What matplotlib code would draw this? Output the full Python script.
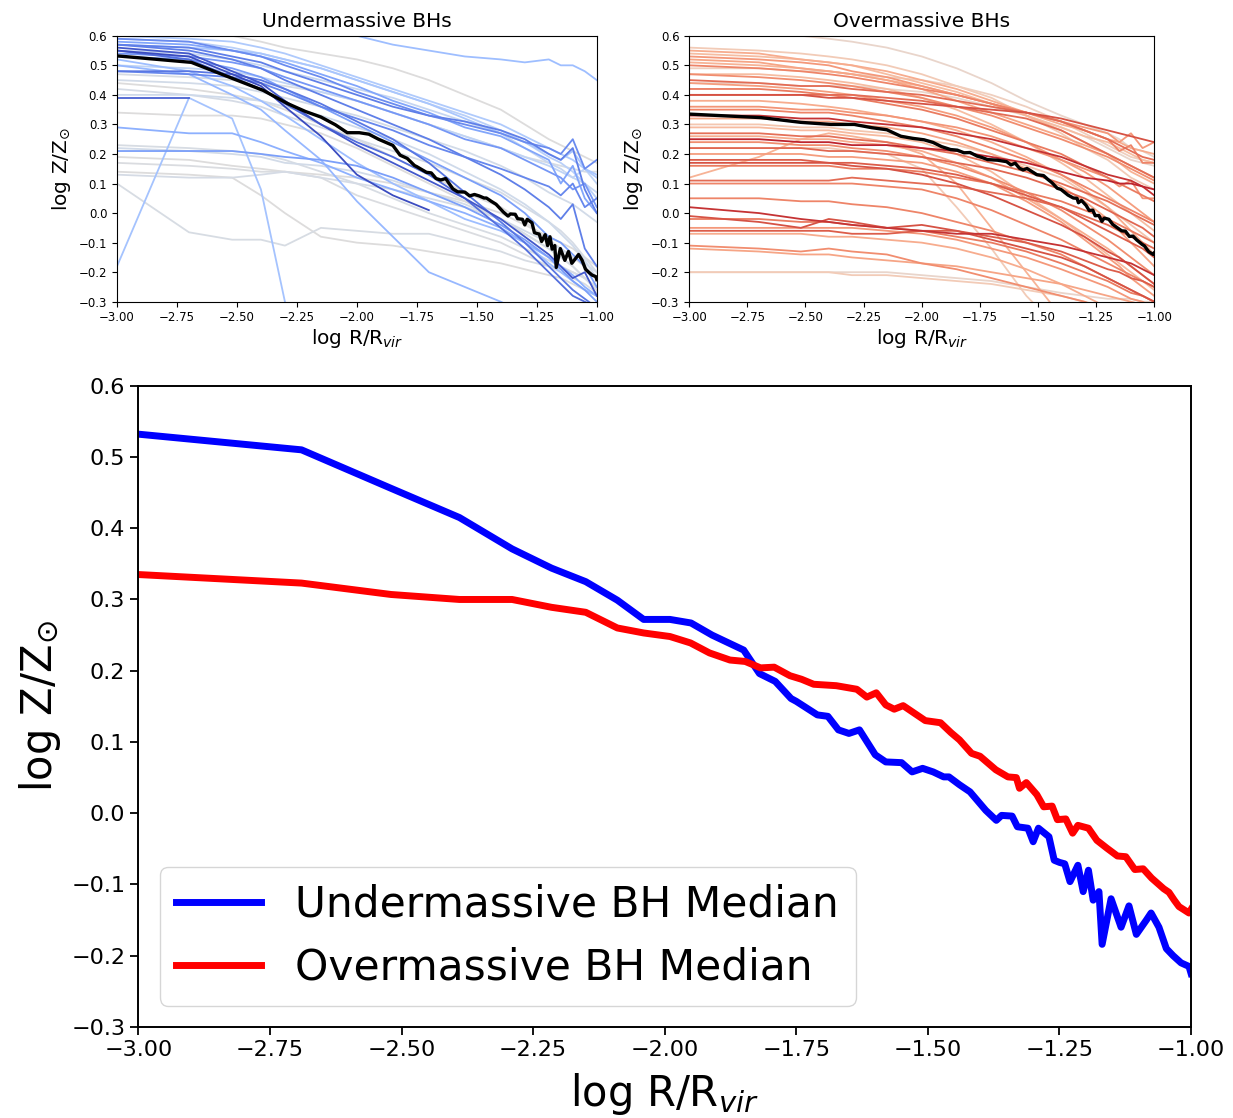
import numpy as np
import matplotlib
matplotlib.use('Agg')
import matplotlib.pyplot as plt

nan = np.nan

# radial sampling of the individual halo profiles (log R/Rvir)
r_grid = [-3.0, -2.7, -2.52, -2.4, -2.3, -2.15, -2.0, -1.85, -1.7, -1.55,
          -1.4, -1.3, -1.2, -1.15, -1.1, -1.05, -1.0]

# individual metallicity profiles, undermassive BH hosts
under_profiles = [
    [0.70, 0.68, 0.66, 0.65, 0.64, 0.62, 0.60, 0.57, 0.55, 0.53, 0.52, 0.51, 0.52, 0.50, 0.50, 0.48, 0.45],
    [-0.18, 0.39, 0.32, 0.08, -0.30, -0.60] + [nan] * 11,
    [0.39, 0.39] + [nan] * 15,
    [0.59, 0.58, 0.55, 0.53, 0.50, 0.46, 0.41, 0.37, 0.33, 0.30, 0.27, 0.24, 0.22, 0.20, 0.25, 0.15, 0.18],
    [0.58, 0.57, 0.55, 0.53, 0.51, 0.47, 0.43, 0.38, 0.34, 0.29, 0.26, 0.22, 0.18, 0.10, 0.16, 0.05, 0.00],
    [0.57, 0.55, 0.52, 0.49, 0.45, 0.40, 0.35, 0.30, 0.25, 0.19, 0.13, 0.08, 0.02, -0.02, 0.03, -0.12, -0.18],
    [0.56, 0.54, 0.48, 0.44, 0.38, 0.30, 0.23, 0.17, 0.11, 0.05, -0.02, -0.08, -0.14, -0.18, -0.22, -0.20, -0.28],
    [0.55, 0.53, 0.47, 0.43, 0.36, 0.26, 0.13, 0.06, 0.01] + [nan] * 8,
    [0.55, 0.52, 0.46, 0.42, 0.37, 0.30, 0.24, 0.19, 0.13, 0.05, -0.05, -0.12, -0.20, -0.24, -0.28, -0.30, -0.32],
    [0.54, 0.53, 0.51, 0.49, 0.46, 0.42, 0.38, 0.34, 0.30, 0.25, 0.22, 0.18, 0.14, 0.12, 0.08, 0.10, 0.02],
    [0.53, 0.52, 0.49, 0.46, 0.42, 0.36, 0.30, 0.24, 0.18, 0.12, 0.06, 0.00, -0.08, -0.10, -0.14, -0.18, -0.25],
    [0.48, 0.48, 0.47, 0.45, 0.42, 0.37, 0.31, 0.25, 0.17, 0.07, -0.03, -0.10, -0.18, -0.22, -0.26, -0.29, -0.32],
    [0.48, 0.47, 0.46, 0.44, 0.41, 0.36, 0.32, 0.28, 0.23, 0.19, 0.15, 0.12, 0.09, 0.06, 0.10, 0.02, 0.05],
    [0.52, 0.48, 0.43, 0.38, 0.33, 0.25, 0.17, 0.10, 0.04, -0.02, -0.06, -0.10, -0.17, -0.20, -0.23, -0.26, -0.28],
    [0.50, 0.47, 0.40, 0.35, 0.28, 0.18, 0.04, -0.08, -0.20, -0.25, -0.30, -0.34] + [nan] * 5,
    [0.29, 0.27, 0.27, 0.24, 0.21, 0.17, 0.12, 0.08, 0.04, 0.00, -0.05, -0.10, -0.15, -0.18, -0.21, -0.25, -0.28],
    [0.21, 0.21, 0.21, 0.20, 0.19, 0.18, 0.16, 0.12, 0.07, 0.02, -0.04, -0.09, -0.15, -0.19, -0.23, -0.26, -0.30],
    [0.60, 0.59, 0.58, 0.56, 0.54, 0.50, 0.46, 0.42, 0.38, 0.34, 0.30, 0.26, 0.22, 0.20, 0.18, 0.15, 0.12],
    [0.59, 0.58, 0.56, 0.54, 0.52, 0.49, 0.45, 0.41, 0.37, 0.33, 0.28, 0.24, 0.19, 0.17, 0.14, 0.10, 0.05],
    [0.57, 0.56, 0.53, 0.51, 0.48, 0.44, 0.40, 0.36, 0.33, 0.31, 0.28, 0.25, 0.20, 0.18, 0.22, 0.08, 0.00],
    [0.57, 0.56, 0.55, 0.54, 0.52, 0.49, 0.45, 0.41, 0.37, 0.32, 0.27, 0.24, 0.20, 0.18, 0.21, 0.15, 0.13],
    [0.50, 0.49, 0.48, 0.46, 0.44, 0.41, 0.38, 0.34, 0.30, 0.26, 0.22, 0.19, 0.16, 0.14, 0.12, 0.15, 0.10],
    [0.62, 0.61, 0.60, 0.58, 0.56, 0.54, 0.52, 0.49, 0.45, 0.40, 0.35, 0.30, 0.25, 0.23, 0.21, 0.19, 0.17],
    [0.47, 0.46, 0.45, 0.44, 0.43, 0.41, 0.38, 0.34, 0.30, 0.26, 0.22, 0.19, 0.17, 0.16, 0.15, 0.14, 0.14],
    [0.45, 0.44, 0.43, 0.41, 0.39, 0.36, 0.33, 0.29, 0.25, 0.21, 0.16, 0.12, 0.07, 0.05, 0.03, 0.00, -0.03],
    [0.44, 0.42, 0.40, 0.38, 0.35, 0.30, 0.25, 0.19, 0.13, 0.07, 0.02, -0.03, -0.09, -0.12, -0.15, -0.18, -0.22],
    [0.42, 0.40, 0.38, 0.36, 0.33, 0.29, 0.25, 0.21, 0.17, 0.12, 0.07, 0.02, -0.03, -0.06, -0.10, -0.15, -0.20],
    [0.40, 0.40, 0.39, 0.38, 0.36, 0.33, 0.29, 0.25, 0.20, 0.14, 0.08, 0.03, -0.03, -0.07, -0.11, -0.16, -0.22],
    [0.34, 0.33, 0.33, 0.32, 0.30, 0.27, 0.22, 0.16, 0.10, 0.04, -0.02, -0.07, -0.12, -0.15, -0.18, -0.22, -0.26],
    [0.23, 0.22, 0.21, 0.20, 0.18, 0.14, 0.10, 0.05, 0.00, -0.04, -0.08, -0.12, -0.16, -0.18, -0.20, -0.22, -0.25],
    [0.22, 0.21, 0.20, 0.19, 0.17, 0.16, 0.14, 0.11, 0.07, 0.03, -0.02, -0.06, -0.10, -0.12, -0.15, -0.17, -0.20],
    [0.19, 0.18, 0.16, 0.15, 0.14, 0.13, 0.12, 0.10, 0.07, 0.04, 0.00, -0.04, -0.08, -0.10, -0.12, -0.15, -0.18],
    [0.17, 0.16, 0.15, 0.14, 0.14, 0.12, 0.06, 0.02, -0.02, -0.06, -0.10, -0.14, -0.18, -0.20, -0.22, -0.24, -0.27],
    [0.13, 0.12, 0.12, 0.13, 0.14, 0.12, 0.10, 0.08, 0.05, 0.02, -0.02, -0.07, -0.12, -0.15, -0.18, -0.22, -0.26],
    [0.10, -0.065, -0.09, -0.09, -0.11, -0.05, -0.06, -0.07, -0.07, -0.10, -0.13, -0.16, -0.18, -0.19, -0.20, -0.22, -0.25],
    [0.14, 0.13, 0.12, 0.06, 0.00, -0.08, -0.10, -0.11, -0.13, -0.15, -0.17, -0.19, -0.21, -0.22, -0.24, -0.26, -0.28],
    [0.55, 0.54, 0.52, 0.50, 0.48, 0.45, 0.42, 0.39, 0.35, 0.31, 0.27, 0.22, 0.17, 0.15, 0.12, 0.10, 0.07],
]
under_shade = [0.30, 0.32, 0.05, 0.15, 0.22, 0.12, 0.03, 0.00, 0.08, 0.18, 0.20, 0.10,
               0.14, 0.30, 0.28, 0.25, 0.20, 0.35, 0.38, 0.12, 0.33, 0.40, 0.50, 0.48,
               0.46, 0.50, 0.47, 0.45, 0.50, 0.48, 0.46, 0.50, 0.49, 0.47, 0.48, 0.50,
               0.42]

# individual metallicity profiles, overmassive BH hosts
over_profiles = [
    [0.62, 0.61, 0.60, 0.59, 0.58, 0.56, 0.53, 0.49, 0.44, 0.38, 0.33, 0.30, 0.27, 0.25, 0.22, 0.21, 0.19],
    [0.56, 0.55, 0.54, 0.53, 0.52, 0.50, 0.47, 0.43, 0.39, 0.33, 0.27, 0.22, 0.18, 0.15, 0.12, 0.10, 0.08],
    [0.55, 0.54, 0.52, 0.51, 0.50, 0.48, 0.45, 0.42, 0.38, 0.34, 0.30, 0.28, 0.25, 0.24, 0.22, 0.21, 0.20],
    [0.54, 0.53, 0.52, 0.51, 0.50, 0.47, 0.44, 0.41, 0.37, 0.33, 0.29, 0.26, 0.24, 0.22, 0.20, 0.18, 0.17],
    [0.53, 0.52, 0.51, 0.50, 0.48, 0.46, 0.43, 0.40, 0.37, 0.34, 0.31, 0.29, 0.27, 0.24, 0.27, 0.22, 0.24],
    [0.52, 0.51, 0.49, 0.48, 0.47, 0.45, 0.42, 0.38, 0.34, 0.30, 0.26, 0.23, 0.20, 0.18, 0.16, 0.14, 0.12],
    [0.51, 0.50, 0.49, 0.48, 0.47, 0.45, 0.43, 0.40, 0.37, 0.33, 0.28, 0.24, 0.20, 0.17, 0.14, 0.12, 0.10],
    [0.50, 0.49, 0.48, 0.47, 0.46, 0.44, 0.42, 0.40, 0.37, 0.34, 0.31, 0.28, 0.25, 0.21, 0.23, 0.17, 0.17],
    [0.47, 0.46, 0.45, 0.44, 0.43, 0.41, 0.39, 0.36, 0.33, 0.29, 0.25, 0.22, 0.19, 0.17, 0.15, 0.13, 0.11],
    [0.45, 0.44, 0.43, 0.43, 0.42, 0.41, 0.40, 0.38, 0.36, 0.34, 0.31, 0.28, 0.25, 0.23, 0.21, 0.19, 0.18],
    [0.44, 0.43, 0.42, 0.41, 0.40, 0.38, 0.36, 0.33, 0.29, 0.24, 0.18, 0.14, 0.09, 0.06, 0.03, 0.00, -0.03],
    [0.42, 0.42, 0.41, 0.40, 0.39, 0.37, 0.35, 0.32, 0.28, 0.24, 0.20, 0.16, 0.12, 0.10, 0.08, 0.06, 0.04],
    [0.40, 0.40, 0.40, 0.39, 0.39, 0.38, 0.37, 0.36, 0.35, 0.34, 0.32, 0.30, 0.28, 0.27, 0.26, 0.25, 0.24],
    [0.38, 0.38, 0.37, 0.36, 0.35, 0.33, 0.31, 0.28, 0.24, 0.19, 0.13, 0.08, 0.02, -0.02, -0.06, -0.10, -0.14],
    [0.36, 0.36, 0.35, 0.35, 0.34, 0.33, 0.31, 0.29, 0.26, 0.22, 0.18, 0.15, 0.12, 0.09, 0.11, 0.05, 0.05],
    [0.35, 0.35, 0.34, 0.34, 0.33, 0.31, 0.29, 0.26, 0.22, 0.18, 0.13, 0.09, 0.05, 0.03, 0.01, -0.01, -0.03],
    [0.33, 0.33, 0.32, 0.32, 0.31, 0.30, 0.29, 0.27, 0.25, 0.22, 0.19, 0.16, 0.13, 0.12, 0.11, 0.09, 0.06],
    [0.32, 0.32, 0.31, 0.31, 0.30, 0.29, 0.27, 0.24, 0.20, 0.15, 0.09, 0.04, -0.02, -0.06, -0.10, -0.14, -0.18],
    [0.29, 0.29, 0.28, 0.28, 0.27, 0.26, 0.24, 0.20, 0.14, 0.06, -0.02, -0.08, -0.14, -0.17, -0.20, -0.23, -0.26],
    [0.27, 0.27, 0.26, 0.26, 0.25, 0.24, 0.22, 0.20, 0.17, 0.14, 0.10, 0.07, 0.04, 0.02, 0.00, -0.02, -0.04],
    [0.25, 0.25, 0.24, 0.24, 0.23, 0.23, 0.22, 0.21, 0.19, 0.17, 0.14, 0.12, 0.11, 0.10, 0.10, 0.09, 0.08],
    [0.24, 0.24, 0.23, 0.23, 0.22, 0.21, 0.19, 0.16, 0.12, 0.07, 0.01, -0.04, -0.09, -0.12, -0.15, -0.18, -0.21],
    [0.22, 0.22, 0.22, 0.21, 0.21, 0.20, 0.19, 0.17, 0.15, 0.12, 0.08, 0.05, 0.01, -0.01, -0.03, -0.05, -0.08],
    [0.20, 0.20, 0.20, 0.19, 0.19, 0.18, 0.17, 0.14, 0.10, 0.04, -0.03, -0.09, -0.15, -0.18, -0.22, -0.25, -0.28],
    [0.18, 0.18, 0.18, 0.17, 0.17, 0.16, 0.15, 0.13, 0.10, 0.06, 0.02, -0.02, -0.06, -0.08, -0.10, -0.12, -0.15],
    [0.16, 0.16, 0.16, 0.16, 0.15, 0.15, 0.14, 0.12, 0.10, 0.07, 0.04, 0.01, -0.02, -0.04, -0.06, -0.08, -0.10],
    [0.12, 0.19, 0.25, 0.27, 0.26, 0.24, 0.20, 0.10, -0.05, -0.20, -0.35] + [nan] * 6,
    [0.22, 0.22, 0.22, 0.22, 0.21, 0.20, 0.15, 0.02, -0.12, -0.28, -0.40] + [nan] * 6,
    [0.11, 0.11, 0.11, 0.11, 0.12, 0.11, 0.10, 0.09, 0.07, 0.05, 0.02, -0.01, -0.04, -0.06, -0.08, -0.10, -0.12],
    [0.10, 0.10, 0.10, 0.10, 0.10, 0.09, 0.08, 0.05, 0.01, -0.04, -0.09, -0.13, -0.17, -0.19, -0.21, -0.23, -0.25],
    [0.02, 0.00, -0.02, -0.03, -0.04, -0.05, -0.06, -0.07, -0.07, -0.09, -0.11, -0.13, -0.15, -0.16, -0.17, -0.19, -0.21],
    [-0.01, -0.03, -0.05, -0.02, -0.03, -0.05, -0.04, -0.06, -0.09, -0.12, -0.15, -0.18, -0.22, -0.24, -0.26, -0.28, -0.30],
    [-0.02, -0.02, -0.03, -0.03, -0.04, -0.05, -0.06, -0.08, -0.10, -0.13, -0.17, -0.20, -0.23, -0.25, -0.27, -0.28, -0.30],
    [-0.05, -0.05, -0.05, -0.05, -0.05, -0.06, -0.07, -0.09, -0.12, -0.15, -0.19, -0.22, -0.25, -0.27, -0.29, -0.30, -0.32],
    [-0.06, -0.06, -0.06, -0.06, -0.07, -0.07, -0.06, -0.06, -0.08, -0.10, -0.13, -0.16, -0.19, -0.20, -0.22, -0.23, -0.25],
    [-0.07, -0.07, -0.07, -0.08, -0.08, -0.09, -0.10, -0.12, -0.15, -0.19, -0.24, -0.28, -0.32] + [nan] * 4,
    [-0.11, -0.12, -0.13, -0.12, -0.13, -0.14, -0.17, -0.19, -0.22, -0.25, -0.28, -0.30, -0.33] + [nan] * 4,
    [-0.12, -0.13, -0.14, -0.14, -0.15, -0.16, -0.17, -0.18, -0.20, -0.22, -0.24, -0.26, -0.28, -0.29, -0.30, -0.31, -0.32],
    [-0.20, -0.20, -0.20, -0.20, -0.20, -0.20, -0.21, -0.22, -0.23, -0.25, -0.27, -0.28, -0.29, -0.29, -0.29, -0.30, -0.30],
    [-0.20, -0.20, -0.20, -0.20, -0.21, -0.21, -0.22, -0.23, -0.24, -0.26, -0.28, -0.30, -0.32] + [nan] * 4,
    [0.47, 0.47, 0.46, 0.45, 0.44, 0.42, 0.39, 0.35, 0.30, 0.24, 0.17, 0.12, 0.06, 0.03, 0.00, -0.03, -0.06],
    [0.40, 0.40, 0.40, 0.40, 0.40, 0.39, 0.38, 0.36, 0.34, 0.32, 0.28, 0.24, 0.20, 0.18, 0.16, 0.14, 0.12],
    [0.30, 0.30, 0.29, 0.29, 0.28, 0.27, 0.25, 0.23, 0.20, 0.16, 0.12, 0.07, 0.02, -0.01, -0.04, -0.07, -0.10],
    [0.17, 0.17, 0.17, 0.17, 0.16, 0.15, 0.13, 0.10, 0.06, 0.01, -0.04, -0.08, -0.13, -0.15, -0.18, -0.21, -0.24],
    [0.44, 0.44, 0.43, 0.43, 0.43, 0.42, 0.41, 0.39, 0.36, 0.33, 0.29, 0.26, 0.22, 0.20, 0.18, 0.17, 0.16],
    [0.26, 0.26, 0.25, 0.25, 0.24, 0.23, 0.21, 0.17, 0.12, 0.05, -0.02, -0.07, -0.12, -0.15, -0.18, -0.21, -0.24],
    [0.05, 0.05, 0.04, 0.04, 0.03, 0.02, 0.00, -0.03, -0.06, -0.10, -0.14, -0.18, -0.22, -0.24, -0.26, -0.28, -0.30],
    [0.49, 0.49, 0.48, 0.48, 0.47, 0.46, 0.45, 0.43, 0.40, 0.36, 0.31, 0.27, 0.23, 0.21, 0.19, 0.18, 0.17],
]
over_shade = [0.55, 0.60, 0.70, 0.65, 0.75, 0.72, 0.68, 0.80, 0.78, 0.85, 0.74, 0.82,
              0.90, 0.70, 0.76, 0.80, 0.95, 0.72, 0.66, 0.84, 0.97, 0.78, 0.86, 0.74,
              0.88, 0.82, 0.68, 0.60, 0.85, 0.80, 0.95, 0.90, 0.82, 0.75, 0.88, 0.70,
              0.78, 0.72, 0.55, 0.60, 0.65, 0.85, 0.62, 0.90, 0.55, 0.70, 0.80, 0.58]

# median profiles
under_med_x = [-3.0, -2.69, -2.52, -2.39, -2.29, -2.215, -2.15, -2.09, -2.04, -1.99,
               -1.95, -1.91, -1.85, -1.82, -1.79, -1.76, -1.75, -1.71, -1.69, -1.67,
               -1.65, -1.63, -1.60, -1.58, -1.55, -1.53, -1.51, -1.49, -1.47, -1.46,
               -1.44, -1.42, -1.39, -1.37, -1.36, -1.34, -1.33, -1.31, -1.30, -1.29,
               -1.27, -1.26, -1.25, -1.24, -1.23, -1.215, -1.205, -1.195, -1.186, -1.175,
               -1.169, -1.152, -1.133, -1.118, -1.104, -1.085, -1.076, -1.061, -1.047, -1.034,
               -1.019, -1.004, -1.0]
under_med_y = [0.532, 0.510, 0.456, 0.415, 0.371, 0.344, 0.325, 0.299, 0.272, 0.272,
               0.267, 0.250, 0.229, 0.196, 0.185, 0.161, 0.157, 0.138, 0.136, 0.117,
               0.112, 0.117, 0.082, 0.072, 0.071, 0.058, 0.063, 0.058, 0.051, 0.051,
               0.040, 0.030, 0.004, -0.010, -0.003, -0.004, -0.019, -0.021, -0.040, -0.021,
               -0.033, -0.066, -0.069, -0.071, -0.096, -0.073, -0.110, -0.080, -0.122, -0.110,
               -0.184, -0.120, -0.160, -0.130, -0.170, -0.150, -0.140, -0.160, -0.190, -0.200,
               -0.210, -0.215, -0.225]
over_med_x = [-3.0, -2.69, -2.52, -2.39, -2.29, -2.215, -2.15, -2.09, -2.04, -1.99,
              -1.951, -1.915, -1.876, -1.847, -1.818, -1.792, -1.762, -1.740, -1.717, -1.674,
              -1.635, -1.616, -1.598, -1.580, -1.564, -1.547, -1.505, -1.476, -1.456, -1.440,
              -1.417, -1.401, -1.371, -1.348, -1.332, -1.326, -1.313, -1.293, -1.280, -1.264,
              -1.254, -1.238, -1.225, -1.215, -1.195, -1.179, -1.160, -1.140, -1.124, -1.107,
              -1.091, -1.075, -1.052, -1.042, -1.032, -1.023, -1.004, -1.0]
over_med_y = [0.335, 0.323, 0.307, 0.300, 0.300, 0.289, 0.282, 0.260, 0.253, 0.248,
              0.239, 0.225, 0.215, 0.213, 0.204, 0.205, 0.193, 0.188, 0.181, 0.179,
              0.174, 0.163, 0.169, 0.152, 0.146, 0.151, 0.130, 0.127, 0.113, 0.103,
              0.084, 0.080, 0.061, 0.051, 0.050, 0.035, 0.043, 0.026, 0.009, 0.010,
              -0.009, -0.008, -0.028, -0.017, -0.021, -0.038, -0.049, -0.060, -0.061, -0.079,
              -0.078, -0.091, -0.106, -0.111, -0.122, -0.131, -0.140, -0.135]

x_ticks = [-3.0, -2.75, -2.5, -2.25, -2.0, -1.75, -1.5, -1.25, -1.0]
y_ticks = [-0.3, -0.2, -0.1, 0.0, 0.1, 0.2, 0.3, 0.4, 0.5, 0.6]

xlab = r'log R/R$_{vir}$'
ylab = r'log Z/Z$_{\odot}$'

fig = plt.figure(figsize=(12.33, 11.18), dpi=100)
ax1 = fig.add_axes([0.0949, 0.7301, 0.3891, 0.2379])
ax2 = fig.add_axes([0.5590, 0.7301, 0.3771, 0.2379])
ax3 = fig.add_axes([0.1122, 0.0814, 0.8538, 0.5736])

cmap = plt.get_cmap('coolwarm')

# gray first, strongest colours on top
for c, prof in sorted(zip(under_shade, under_profiles), key=lambda t: -t[0]):
    ax1.plot(r_grid, prof, color=cmap(c), lw=1.3)
ax1.plot(under_med_x, under_med_y, color='k', lw=2.4)

for c, prof in sorted(zip(over_shade, over_profiles), key=lambda t: t[0]):
    ax2.plot(r_grid, prof, color=cmap(c), lw=1.3)
ax2.plot(over_med_x, over_med_y, color='k', lw=2.4)

for ax, title in [(ax1, 'Undermassive BHs'), (ax2, 'Overmassive BHs')]:
    ax.set_xlim(-3, -1)
    ax.set_ylim(-0.3, 0.6)
    ax.set_xticks(x_ticks)
    ax.set_yticks(y_ticks)
    ax.tick_params(labelsize=8.5, length=3.5)
    ax.set_title(title, fontsize=14.5)
    ax.set_xlabel(xlab, fontsize=14.5, labelpad=2)
    ax.set_ylabel(ylab, fontsize=14.5)

# bottom: the two medians together
ax3.plot(under_med_x, under_med_y, color='blue', lw=5, label='Undermassive BH Median')
ax3.plot(over_med_x, over_med_y, color='red', lw=5, label='Overmassive BH Median')
ax3.set_xlim(-3, -1)
ax3.set_ylim(-0.3, 0.6)
ax3.set_xticks(x_ticks)
ax3.set_yticks(y_ticks)
ax3.tick_params(labelsize=16, length=6, width=1.3)
for s in ax3.spines.values():
    s.set_linewidth(1.4)
ax3.set_xlabel(xlab, fontsize=30, labelpad=8)
ax3.set_ylabel(ylab, fontsize=30, labelpad=6)
ax3.legend(loc='lower left', fontsize=30.5)

fig.savefig('out.png', dpi=100)
